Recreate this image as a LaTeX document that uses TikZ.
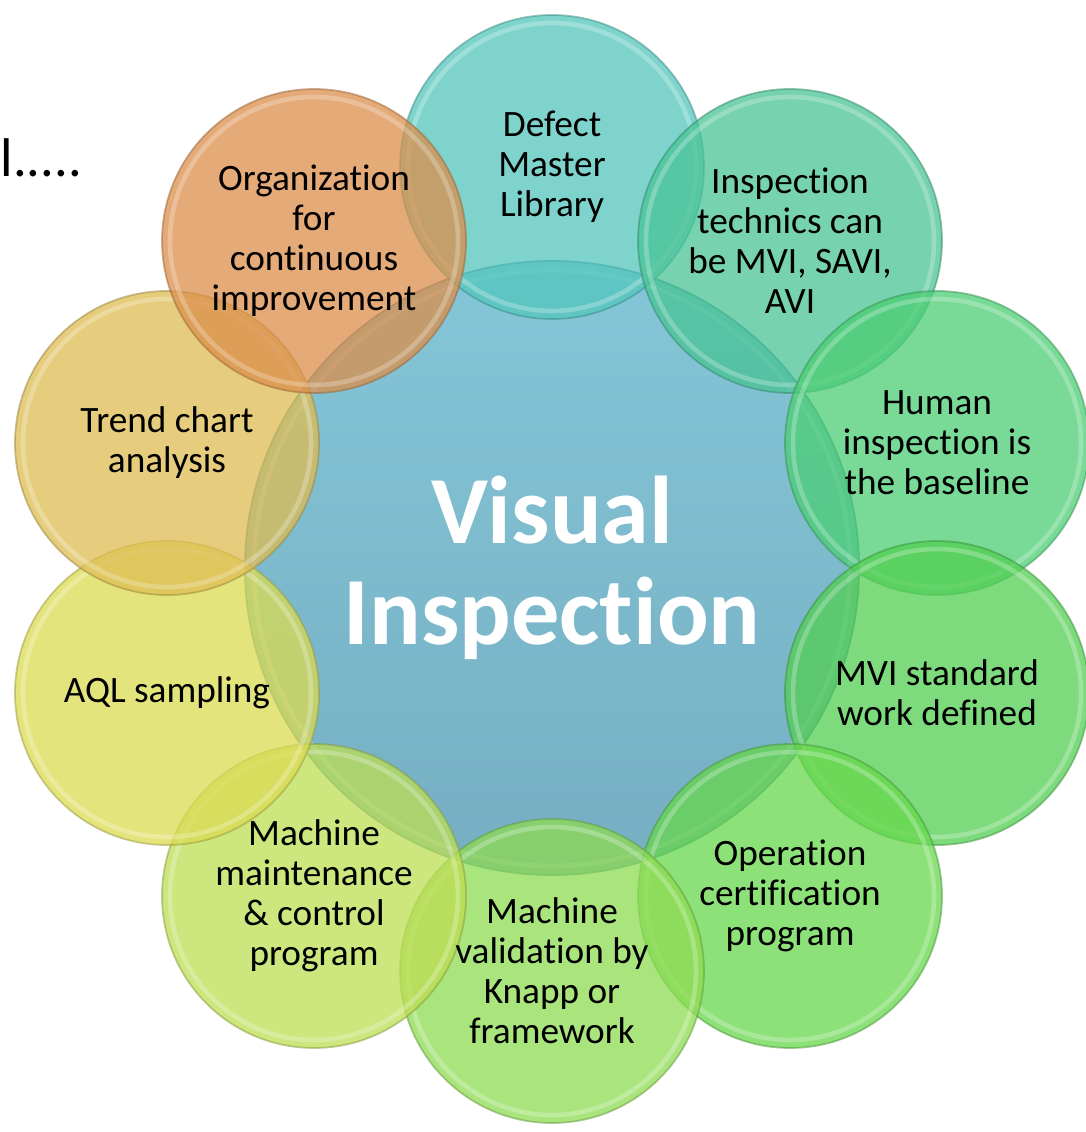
\documentclass[tikz,border=0pt]{standalone}
\usepackage{fontspec}
\setmainfont{Carlito}[Ligatures=NoCommon]
\usetikzlibrary{backgrounds}
\definecolor{defectc}{RGB}{83,198,188}
\definecolor{techc}{RGB}{72,195,148}
\definecolor{humanc}{RGB}{75,206,115}
\definecolor{mvic}{RGB}{82,206,82}
\definecolor{certc}{RGB}{102,215,75}
\definecolor{validc}{RGB}{142,219,82}
\definecolor{maintc}{RGB}{188,222,82}
\definecolor{aqlc}{RGB}{219,219,82}
\definecolor{trendc}{RGB}{222,188,82}
\definecolor{orgc}{RGB}{219,142,75}
\tikzset{
  hub/.style={circle,minimum size=6.14cm,inner sep=0pt,align=center,text=white,
    font=\fontsize{27.4}{28.8}\selectfont\bfseries},
  topic/.style={circle,minimum size=3.04cm,inner sep=0pt,align=center,
    font=\fontsize{10.6}{11.4}\selectfont},
  bubble/.style={fill=#1,fill opacity=0.75,draw=#1!70!black,draw opacity=0.5,line width=0.5pt},
  gloss/.style={draw=white,draw opacity=0.25,line width=1.3pt}
}

\begin{document}
\begin{tikzpicture}
  \useasboundingbox (0,0) rectangle (10.86,-11.32);

  \node[anchor=base west,inner sep=0pt,font=\fontsize{15.5}{18}\selectfont] (cut) at (0.0,-1.77) {l.....};

  \node[hub] (VI) at (5.52,-5.68) {Visual\\Inspection};
  \node[topic] (DML) at (5.52,-1.67) {Defect\\Master\\Library};
  \node[topic] (TECH) at (7.90,-2.41) {Inspection\\technics can\\be MVI, SAVI,\\AVI};
  \node[topic] (HUM) at (9.37,-4.43) {Human\\inspection is\\the baseline};
  \node[topic] (MVI) at (9.37,-6.93) {MVI standard\\work defined};
  \node[topic] (CERT) at (7.90,-8.96) {Operation\\certification\\program};
  \node[topic] (VAL) at (5.52,-9.71) {Machine\\validation by\\Knapp or\\framework};
  \node[topic] (MAINT) at (3.14,-8.96) {Machine\\maintenance\\\& control\\program};
  \node[topic] (AQL) at (1.67,-6.93) {AQL sampling};
  \node[topic] (TREND) at (1.67,-4.43) {Trend chart\\analysis};
  \node[topic] (ORG) at (3.14,-2.41) {Organization\\for\\continuous\\improvement};

  \begin{pgfonlayer}{background}
    \shade[top color={rgb,255:red,132;green,198;blue,215},bottom color={rgb,255:red,118;green,174;blue,194},
      draw={rgb,255:red,95;green,150;blue,170},line width=0.5pt] (VI.center) circle (3.07);
    \draw[gloss] (VI.center) circle (2.98);
    \foreach \n/\c in {DML/defectc,TECH/techc,HUM/humanc,MVI/mvic,CERT/certc,
        VAL/validc,MAINT/maintc,AQL/aqlc,TREND/trendc,ORG/orgc} {
      \draw[bubble=\c] (\n.center) circle (1.52);
      \draw[gloss] (\n.center) circle (1.44);
    }
  \end{pgfonlayer}
\end{tikzpicture}
\end{document}
